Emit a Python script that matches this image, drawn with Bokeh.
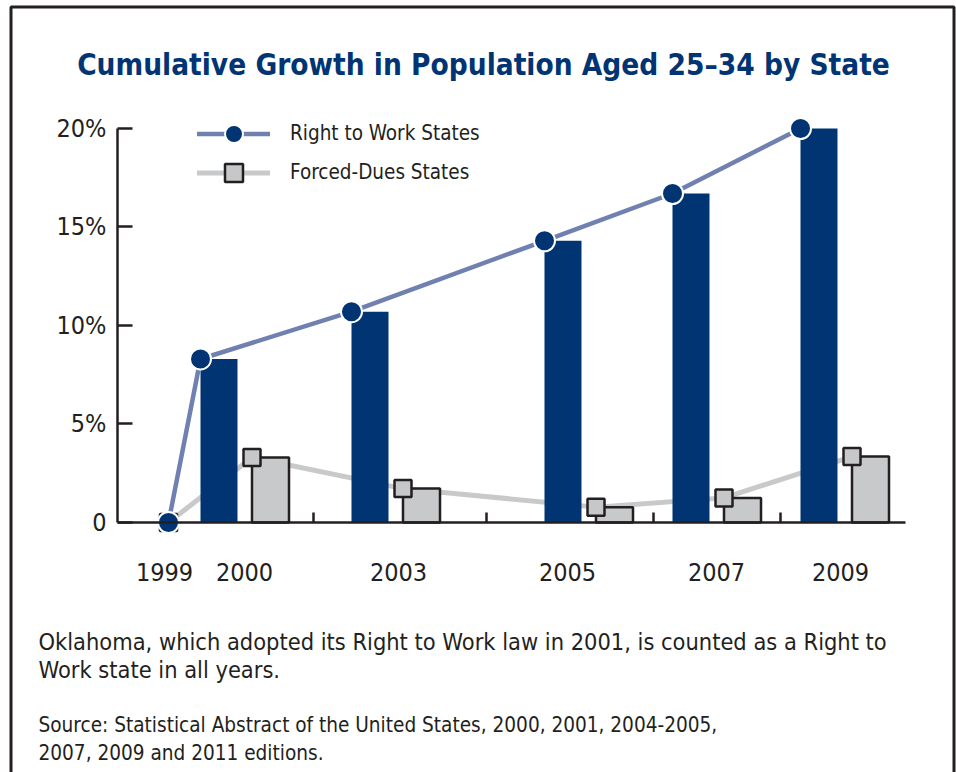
from bokeh.plotting import figure
from bokeh.models import (Range1d, FixedTicker, Legend, LegendItem, Label,
                          PolyAnnotation, LinearAxis)
from bokeh.embed import file_html
from bokeh.resources import INLINE

# ---- data ----
years = ["1999", "2000", "2003", "2005", "2007", "2009"]
rtw = [0, 8.3, 10.7, 14.3, 16.7, 20.0]          # Right to Work States (%)
forced = [0, 3.3, 1.72, 0.78, 1.25, 3.35]       # Forced-Dues States (%)
y_ticks = [0, 5, 10, 15, 20]
y_labels = ["0", "5%", "10%", "15%", "20%"]

# ---- layout (x positions in axis units) ----
rtw_x = [5.1, 8.3, 23.4, 42.7, 55.5, 68.3]
fd_offset = 5.15
fd_x = [rtw_x[0]] + [v + fd_offset for v in rtw_x[1:]]
bar_w = 3.7
label_x = [4.7, 12.7, 28.1, 45.0, 59.9, 72.3]
minor_x = [19.6, 36.9, 53.6, 66.3]

NAVY = "#003473"
RTW_LINE = "#7080b0"
GRAY = "#c8c9cb"
INK = "#231f20"
FONT = "DejaVu Sans Condensed"

W, H = 956, 772
# the plot frame covers the whole canvas; axes sit at fixed data locations
p = figure(width=W, height=H, output_backend="svg", toolbar_location=None,
           title=None,
           x_range=Range1d(-11.7, 83.9), y_range=Range1d(-12.69, 26.497),
           min_border_left=0, min_border_right=0,
           min_border_top=0, min_border_bottom=0,
           x_axis_type=None, y_axis_type=None)
p.outline_line_color = None
p.grid.visible = False
p.background_fill_color = "white"
p.border_fill_color = "white"

yax = LinearAxis(ticker=FixedTicker(ticks=y_ticks),
                 major_label_overrides={t: l for t, l in zip(y_ticks, y_labels)},
                 fixed_location=0)
yax.bounds = (0, 20)
yax.axis_line_color = INK
yax.axis_line_width = 2.5
yax.major_tick_in = 15
yax.major_tick_out = 0
yax.major_tick_line_color = INK
yax.major_tick_line_width = 2.5
yax.minor_tick_line_color = None
yax.major_label_standoff = 11
yax.major_label_text_font = FONT
yax.major_label_text_font_size = "25px"
yax.major_label_text_color = INK
p.add_layout(yax, "left")

xax = LinearAxis(ticker=FixedTicker(ticks=label_x, minor_ticks=minor_x),
                 major_label_overrides={t: l for t, l in zip(label_x, years)},
                 fixed_location=0)
xax.bounds = (0, 78.8)
xax.axis_line_color = INK
xax.axis_line_width = 2.5
xax.major_tick_in = 0
xax.major_tick_out = 0
xax.major_tick_line_color = None
xax.minor_tick_in = 10
xax.minor_tick_out = 0
xax.minor_tick_line_color = INK
xax.minor_tick_line_width = 2.5
xax.major_label_standoff = 40
xax.major_label_text_font = FONT
xax.major_label_text_font_size = "25px"
xax.major_label_text_color = INK
p.add_layout(xax, "below")

# ---- glyphs ----
fd_line = p.line(fd_x, forced, line_color=GRAY, line_width=5, line_cap="round",
                 line_join="round")
p.vbar(x=[v + bar_w / 2 for v in rtw_x[1:]], width=bar_w, top=rtw[1:], bottom=0,
       fill_color=NAVY, line_color=None)
p.vbar(x=[v + bar_w / 2 for v in fd_x[1:]], width=bar_w, top=forced[1:], bottom=0,
       fill_color=GRAY, line_color=INK, line_width=2.5)
rtw_line = p.line(rtw_x, rtw, line_color=RTW_LINE, line_width=4.5, line_cap="round",
                  line_join="round")
fd_pts = p.scatter(fd_x, forced, marker="square", size=17, fill_color="#c6c7c9",
                   line_color=INK, line_width=2.5)
rtw_pts = p.scatter(rtw_x, rtw, marker="circle", size=21, fill_color=NAVY,
                    line_color="white", line_width=2)

legend_kw = dict(orientation="vertical", glyph_width=73, glyph_height=45,
                 padding=0, margin=0, label_standoff=20, label_text_font=FONT,
                 label_text_font_size="20.5px", label_text_color=INK,
                 border_line_color=None, background_fill_alpha=0)
p.add_layout(Legend(items=[LegendItem(label="Right to Work States",
                                      renderers=[rtw_line, rtw_pts])],
                    location=(197, 616.5), **legend_kw))
p.add_layout(Legend(items=[LegendItem(label="Forced-Dues States",
                                      renderers=[fd_line, fd_pts])],
                    location=(197, 577.5), **legend_kw))

# ---- texts (screen units: from the canvas bottom-left) ----
p.add_layout(Label(x=483, y=H - 64, x_units="screen", y_units="screen",
                   text="Cumulative Growth in Population Aged 25\u201334 by State",
                   text_align="center", text_baseline="alphabetic",
                   text_font=FONT, text_font_style="bold", text_font_size="29.5px",
                   text_color=NAVY))
notes = [("Oklahoma, which adopted its Right to Work law in 2001, is counted as a Right to", 641, "23.4px"),
         ("Work state in all years.", 669, "23.4px"),
         ("Source: Statistical Abstract of the United States, 2000, 2001, 2004-2005,", 724, "20.6px"),
         ("2007, 2009 and 2011 editions.", 752, "20.6px")]
for t, yy, fs in notes:
    p.add_layout(Label(x=38, y=H - yy, x_units="screen", y_units="screen", text=t,
                       text_align="left", text_baseline="alphabetic",
                       text_font=FONT, text_font_size=fs, text_color=INK))

# outer frame (left, top, right; its bottom edge lies below the canvas)
p.add_layout(PolyAnnotation(xs=[10.5, 10.5, 953.5, 953.5], ys=[-20, H - 6.5, H - 6.5, -20],
                            xs_units="screen", ys_units="screen",
                            line_color=INK, line_alpha=1.0, line_width=3,
                            fill_alpha=0))

open("out.html", "w").write(file_html(p, INLINE))
